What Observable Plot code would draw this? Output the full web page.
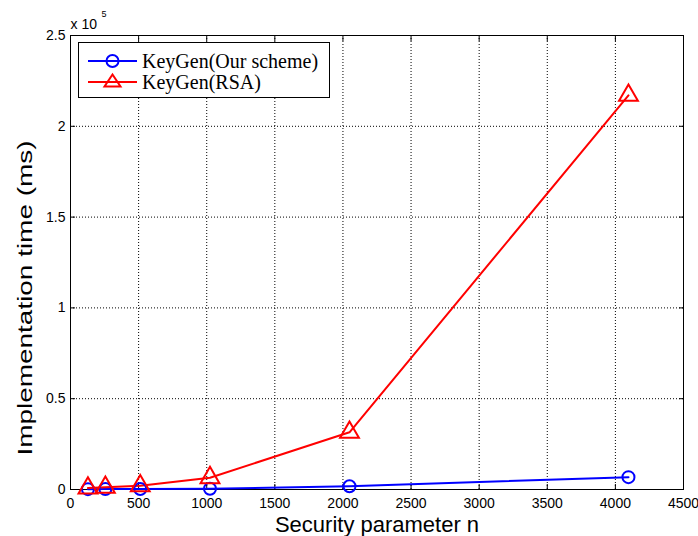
<!DOCTYPE html>
<html>
<head>
<meta charset="utf-8">
<script src="https://cdn.jsdelivr.net/npm/d3@7"></script>
<script src="https://cdn.jsdelivr.net/npm/@observablehq/plot@0.6"></script>
<style>
  body { margin: 0; background: #fff; }
  #wrap { position: relative; width: 698px; height: 536px; }
  #legend { position: absolute; left: 78px; top: 42px; width: 250px; height: 54px;
    border: 1px solid #000; background: #fff; font-family: "Times New Roman", "Liberation Serif", serif; font-size: 20px; }
  .row { position: absolute; left: 0; height: 20px; display: flex; align-items: center; }
  .row svg { margin-left: 9px; }
  .row span { margin-left: 5px; line-height: 20px; white-space: nowrap; }
</style>
</head>
<body>
<div id="wrap"></div>
<script>
const n = [128, 256, 512, 1024, 2048, 4096];
const ourScheme = [200, 250, 300, 400, 1800, 6800];
const rsa = [800, 1200, 2000, 6500, 31500, 217000];
const seriesNames = ["KeyGen(Our scheme)", "KeyGen(RSA)"];
const seriesColors = ["#0000ff", "#ff0000"];
const xTicks = [0, 500, 1000, 1500, 2000, 2500, 3000, 3500, 4000, 4500];
const yTicks = [0, 50000, 100000, 150000, 200000, 250000];
const xLabel = "Security parameter n";
const yLabel = "Implementation time (ms)";

const dataOur = n.map((x, i) => ({x, y: ourScheme[i]}));
const dataRsa = n.map((x, i) => ({x, y: rsa[i]}));

const font = "Arial, 'Liberation Sans', sans-serif";

const chart = Plot.plot({
  width: 698, height: 536,
  marginLeft: 70, marginRight: 15, marginTop: 35, marginBottom: 47,
  style: {fontFamily: font, background: "#fff", color: "#000"},
  x: {domain: [0, 4500]},
  y: {domain: [0, 250000]},
  marks: [
    Plot.gridX(xTicks, {stroke: "#000", strokeOpacity: 1, strokeDasharray: "1,2"}),
    Plot.gridY(yTicks, {stroke: "#000", strokeOpacity: 1, strokeDasharray: "1,2"}),
    Plot.axisX(xTicks, {anchor: "bottom", tickSize: 0, tickPadding: 9, fontSize: 14, label: null, tickFormat: d => String(d)}),
    Plot.axisY(yTicks, {anchor: "left", tickSize: 0, tickPadding: 5, fontSize: 14, label: null, tickFormat: d => String(d / 1e5)}),
    Plot.axisX(xTicks, {anchor: "bottom", tickSize: -5, tickFormat: () => "", label: null}),
    Plot.axisX(xTicks, {anchor: "top", tickSize: -5, tickFormat: () => "", label: null}),
    Plot.axisY(yTicks, {anchor: "left", tickSize: -5, tickFormat: () => "", label: null}),
    Plot.axisY(yTicks, {anchor: "right", tickSize: -5, tickFormat: () => "", label: null}),
    Plot.frame({stroke: "#000"}),
    Plot.line(dataOur, {x: "x", y: "y", stroke: seriesColors[0], strokeWidth: 2}),
    Plot.line(dataRsa, {x: "x", y: "y", stroke: seriesColors[1], strokeWidth: 2}),
    Plot.dot(dataOur, {x: "x", y: "y", stroke: seriesColors[0], fill: "none", strokeWidth: 2, r: 6, symbol: "circle"}),
    Plot.dot(dataRsa, {x: "x", y: "y", stroke: seriesColors[1], fill: "none", strokeWidth: 2, r: 7, symbol: "triangle"}),
    Plot.text([xLabel], {frameAnchor: "bottom", dy: 35, fontSize: 22, lineAnchor: "middle"}),
    Plot.text([yLabel], {frameAnchor: "left", dx: -45, dy: 193, rotate: -90, fontSize: 21, lineAnchor: "middle", textAnchor: "start"}),
    Plot.text(["x 10"], {frameAnchor: "top-left", dy: -11, textAnchor: "start", fontSize: 14, lineAnchor: "middle"}),
    Plot.text(["5"], {frameAnchor: "top-left", dx: 31, dy: -21, textAnchor: "start", fontSize: 9, lineAnchor: "middle"})
  ]
});

d3.select(chart).selectAll("text")
  .filter(function() { return this.textContent === yLabel; })
  .attr("textLength", 315).attr("lengthAdjust", "spacingAndGlyphs");

const wrap = document.getElementById("wrap");
wrap.appendChild(chart);

const legend = document.createElement("div");
legend.id = "legend";
const symbols = ["circle", "triangle"];
seriesNames.forEach((name, i) => {
  const row = document.createElement("div");
  row.className = "row";
  row.style.top = (i === 0 ? 8 : 29) + "px";
  const c = seriesColors[i];
  const marker = symbols[i] === "circle"
    ? `<circle cx="24.5" cy="10" r="6" fill="none" stroke="${c}" stroke-width="2"/>`
    : `<path d="M24.5,2.5 L32.5,14.5 L16.5,14.5 Z" fill="none" stroke="${c}" stroke-width="2"/>`;
  row.innerHTML = `<svg width="49" height="20"><line x1="0" y1="10" x2="49" y2="10" stroke="${c}" stroke-width="2"/>${marker}</svg><span>${name}</span>`;
  legend.appendChild(row);
});
wrap.appendChild(legend);
</script>
</body>
</html>
